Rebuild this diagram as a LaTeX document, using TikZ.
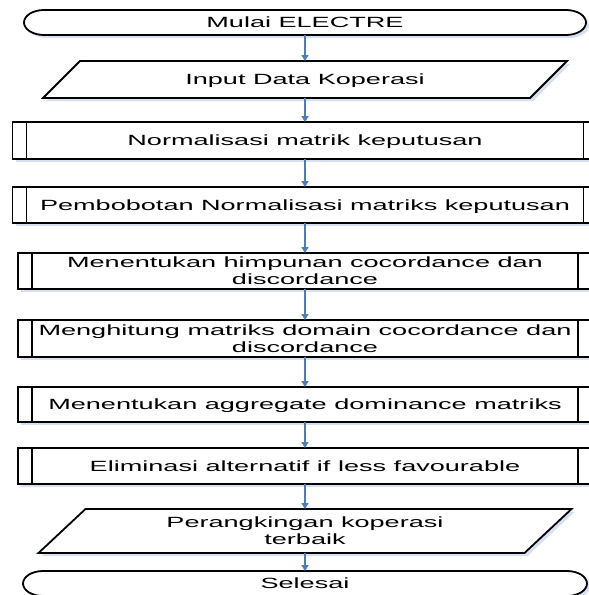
\documentclass[tikz,border=0pt]{standalone}
\usepackage{fontspec}
\setmainfont{Liberation Sans}[FakeStretch=1.83]
\usetikzlibrary{positioning,arrows.meta,shadows,backgrounds}
\definecolor{flowblue}{RGB}{74,126,187}
\definecolor{shadowblue}{RGB}{214,224,240}
\tikzset{
    base/.style = {inner sep=0pt, outer sep=0pt, font=\fontsize{14.8}{17}\selectfont, align=center},
    oneline/.style = {text height=10.7pt, text depth=0pt},
    boxshadow/.style = {drop shadow={fill=shadowblue, opacity=1, shadow xshift=3pt, shadow yshift=-3pt}},
    outline/.style = {draw, line width=1.8pt, fill=white, boxshadow},
    terminal/.style = {base, oneline, minimum height=25pt},
    io/.style = {base},
    process/.style = {base, outline},
    arr/.style = {-{Triangle[length=6pt,width=7pt]}, flowblue, line width=1.3pt}
}

\begin{document}
\begin{tikzpicture}[x=1pt, y=-1pt]
    \useasboundingbox (0,0) rectangle (589,595);
    \node[terminal, minimum width=562pt] (mulai) at (305,22.5) {Mulai ELECTRE};
    \node[io, oneline, minimum width=487pt, minimum height=37pt, below=26pt of mulai] (input) {Input Data Koperasi};
    \node[process, oneline, minimum width=585pt, minimum height=37pt, below=24pt of input] (normal) {Normalisasi matrik keputusan};
    \node[process, oneline, minimum width=585pt, minimum height=36pt, below=28pt of normal] (bobot) {Pembobotan Normalisasi matriks keputusan};
    \node[process, minimum width=574pt, minimum height=36pt, below=30pt of bobot] (himpunan) {Menentukan himpunan cocordance dan\\discordance};
    \node[process, minimum width=574pt, minimum height=37pt, below=31pt of himpunan] (hitung) {Menghitung matriks domain cocordance dan\\discordance};
    \node[process, oneline, minimum width=574pt, minimum height=35pt, below=30pt of hitung] (agregat) {Menentukan aggregate dominance matriks};
    \node[process, oneline, minimum width=574pt, minimum height=36pt, below=26pt of agregat] (eliminasi) {Eliminasi alternatif if less favourable};
    \node[io, minimum width=486pt, minimum height=44pt, below=25pt of eliminasi] (ranking) {Perangkingan koperasi\\terbaik};
    \node[terminal, minimum width=564pt, below=18pt of ranking] (selesai) {Selesai};

    % outlines of start/end and input/output
    \begin{scope}[on background layer]
        \foreach \n in {mulai,selesai}
            \draw[outline] ([xshift=20pt]\n.north west) -- ([xshift=-20pt]\n.north east)
                arc[start angle=90, end angle=-90, x radius=20pt, y radius=12.5pt]
                -- ([xshift=20pt]\n.south west)
                arc[start angle=270, end angle=90, x radius=20pt, y radius=12.5pt] -- cycle;
        \foreach \n/\s in {input/18.5pt, ranking/23.5pt}
            \draw[outline] ([xshift=\s]\n.north west) -- ([xshift=\s]\n.north east)
                -- ([xshift=-\s]\n.south east) -- ([xshift=-\s]\n.south west) -- cycle;
    \end{scope}

    % side bars of predefined processes
    \foreach \n in {normal,bobot,himpunan,hitung,agregat,eliminasi}
        \draw[line width=1.8pt] ([xshift=14pt]\n.north west) -- ([xshift=14pt]\n.south west)
            ([xshift=-14pt]\n.north east) -- ([xshift=-14pt]\n.south east);

    \foreach \a/\b in {mulai/input, input/normal, normal/bobot, bobot/himpunan, himpunan/hitung,
                       hitung/agregat, agregat/eliminasi, eliminasi/ranking, ranking/selesai}
        \draw[arr] (\a) -- (\b);
\end{tikzpicture}
\end{document}
